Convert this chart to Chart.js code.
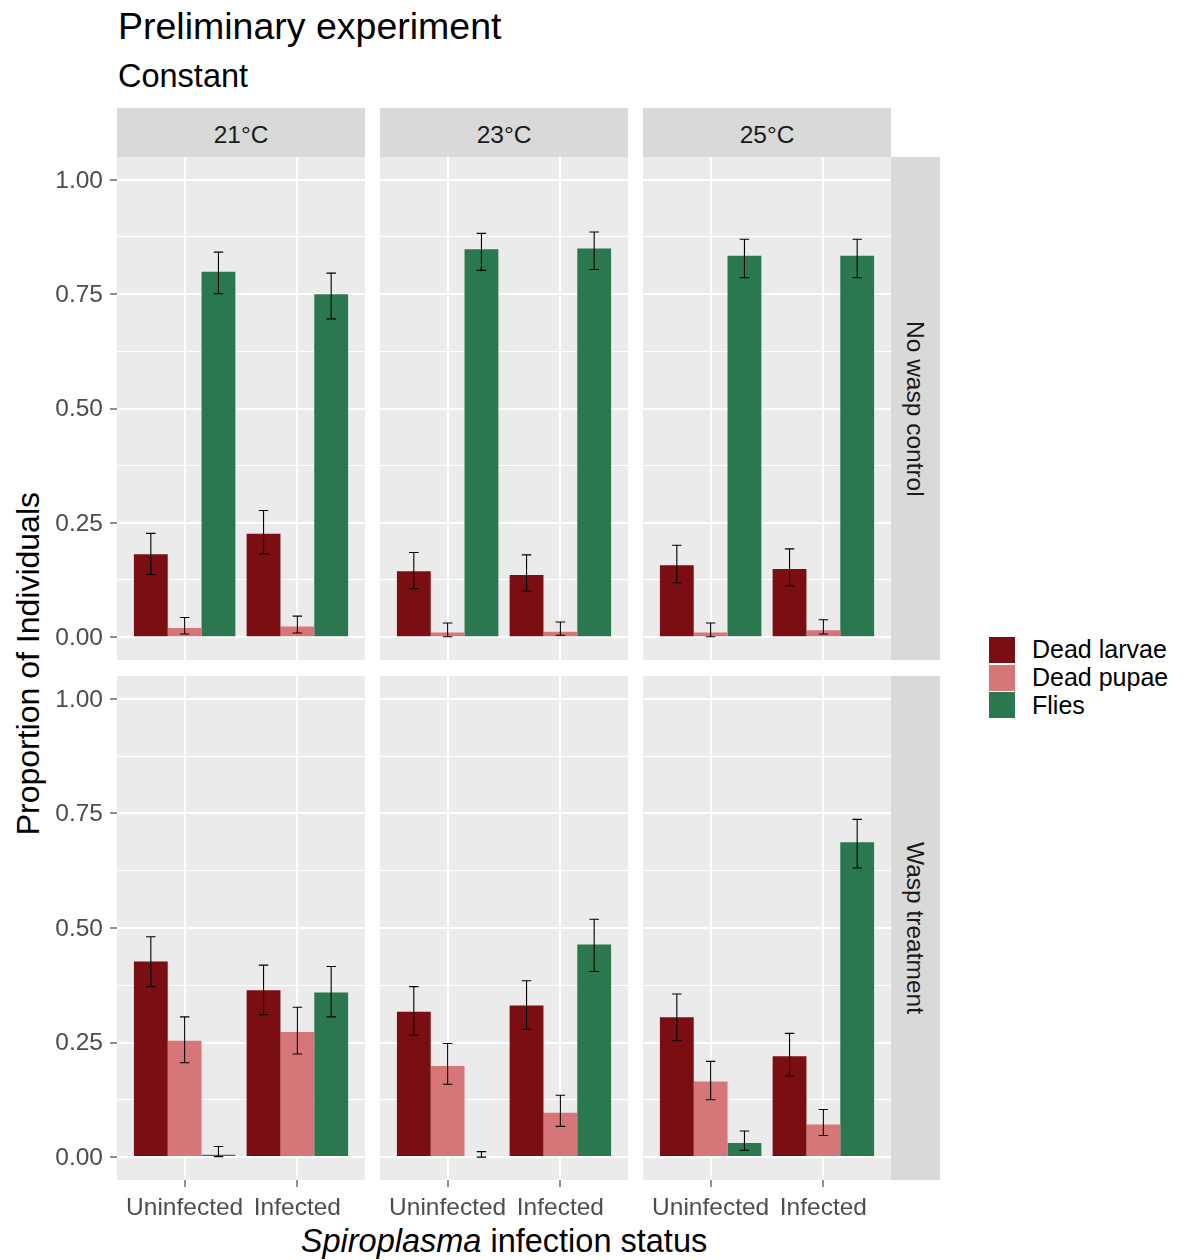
<!DOCTYPE html>
<html>
<head>
<meta charset="utf-8">
<script src="https://cdn.jsdelivr.net/npm/chart.js@4.4.1/dist/chart.umd.min.js"></script>
<style>
  html, body { margin: 0; padding: 0; background: #ffffff; }
  body { position: relative; width: 1186px; height: 1260px; overflow: hidden;
         font-family: "Liberation Sans", Arial, sans-serif; }
  .abs { position: absolute; }
  .txt { line-height: 1; white-space: nowrap; }
  .strip { background: #D9D9D9; color: #1A1A1A; font-size: 24.5px; line-height: 1;
           display: flex; align-items: center; justify-content: center; white-space: nowrap; }
  .strip.top span { position: relative; top: 3px; }
  .strip.side span { writing-mode: vertical-rl; position: relative; left: -1px; }
  #ytitle { display: flex; align-items: center; justify-content: center; }
  #ytitle span { writing-mode: vertical-rl; transform: rotate(180deg); font-size: 32px; line-height: 1; white-space: nowrap; }
  .key { width: 26px; height: 26px; }
  .legend-row { display: flex; align-items: center; height: 27.8px; }
  .legend-row span { margin-left: 17px; font-size: 25px; line-height: 1; color: #000; white-space: nowrap; }
</style>
</head>
<body>
<div class="abs txt" style="left:118px;top:7.5px;font-size:37.5px;color:#000">Preliminary experiment</div>
<div class="abs txt" style="left:118px;top:59.5px;font-size:32.5px;color:#000">Constant</div>
<div id="ytitle" class="abs" style="left:0;top:157px;width:56px;height:1013px"><span>Proportion of Individuals</span></div>
<div class="abs txt" style="left:117px;width:774px;top:1225px;font-size:32.5px;color:#000;text-align:center"><i>Spiroplasma</i> infection status</div>
<div id="legend" class="abs" style="left:989px;top:636px"></div>

<script>
// ---- categories and facets ----
const STATUS = ['Uninfected', 'Infected'];
const TEMPERATURES = ['21°C', '23°C', '25°C'];
const TREATMENTS = ['No wasp control', 'Wasp treatment'];
const OUTCOMES = ['Dead larvae', 'Dead pupae', 'Flies'];
const OUTCOME_COLOURS = ['#7A0E12', '#D77678', '#2A7750'];

// y axis breaks (labelled) and the minor lines between them
const Y_TICKS = [0, 0.25, 0.5, 0.75, 1];
const Y_MINOR = [0.125, 0.375, 0.625, 0.875];

// ---- proportions; order: 21°C Uninfected, 21°C Infected, 23°C U, 23°C I, 25°C U, 25°C I ----
// No wasp control
const NO_WASP_LARVAE      = [0.181, 0.226, 0.144, 0.136, 0.157, 0.149];
const NO_WASP_LARVAE_LOW  = [0.137, 0.182, 0.106, 0.101, 0.119, 0.112];
const NO_WASP_LARVAE_HIGH = [0.227, 0.277, 0.185, 0.180, 0.201, 0.193];
const NO_WASP_PUPAE       = [0.020, 0.023, 0.010, 0.012, 0.010, 0.015];
const NO_WASP_PUPAE_LOW   = [0.007, 0.009, 0.001, 0.004, 0.001, 0.007];
const NO_WASP_PUPAE_HIGH  = [0.043, 0.046, 0.031, 0.033, 0.031, 0.038];
const NO_WASP_FLIES       = [0.799, 0.750, 0.848, 0.850, 0.834, 0.834];
const NO_WASP_FLIES_LOW   = [0.751, 0.696, 0.802, 0.804, 0.786, 0.786];
const NO_WASP_FLIES_HIGH  = [0.842, 0.796, 0.883, 0.886, 0.870, 0.870];
// Wasp treatment
const WASP_LARVAE      = [0.427, 0.364, 0.317, 0.331, 0.305, 0.220];
const WASP_LARVAE_LOW  = [0.372, 0.311, 0.266, 0.279, 0.254, 0.177];
const WASP_LARVAE_HIGH = [0.481, 0.419, 0.372, 0.385, 0.356, 0.270];
const WASP_PUPAE       = [0.254, 0.273, 0.199, 0.097, 0.165, 0.071];
const WASP_PUPAE_LOW   = [0.206, 0.225, 0.159, 0.067, 0.125, 0.047];
const WASP_PUPAE_HIGH  = [0.306, 0.327, 0.248, 0.135, 0.209, 0.104];
const WASP_FLIES       = [0.005, 0.359, 0.000, 0.464, 0.031, 0.687];
const WASP_FLIES_LOW   = [0.001, 0.306, 0.000, 0.405, 0.015, 0.631];
const WASP_FLIES_HIGH  = [0.023, 0.416, 0.012, 0.519, 0.057, 0.737];

// rows of the facet grid -> outcome series
const SERIES = [
  [
    { mean: NO_WASP_LARVAE, low: NO_WASP_LARVAE_LOW, high: NO_WASP_LARVAE_HIGH },
    { mean: NO_WASP_PUPAE,  low: NO_WASP_PUPAE_LOW,  high: NO_WASP_PUPAE_HIGH },
    { mean: NO_WASP_FLIES,  low: NO_WASP_FLIES_LOW,  high: NO_WASP_FLIES_HIGH }
  ],
  [
    { mean: WASP_LARVAE, low: WASP_LARVAE_LOW, high: WASP_LARVAE_HIGH },
    { mean: WASP_PUPAE,  low: WASP_PUPAE_LOW,  high: WASP_PUPAE_HIGH },
    { mean: WASP_FLIES,  low: WASP_FLIES_LOW,  high: WASP_FLIES_HIGH }
  ]
];

// ---- page layout ----
const FONT = '"Liberation Sans", Arial, sans-serif';
const COL_X = [117, 380, 643];
const PANEL_W = 248;
const ROW_Y = [157, 676];
const PANEL_H = [503, 504];
const STRIP = 49;
const Y_AXIS_W = 77;
const X_AXIS_H = 52;

const isMajor = v => Y_TICKS.some(t => Math.abs(t - v) < 1e-9);

// grey panel background
const panelBackground = {
  id: 'panelBackground',
  beforeDraw(chart) {
    const { ctx, chartArea: a } = chart;
    ctx.save();
    ctx.fillStyle = '#EBEBEB';
    ctx.fillRect(a.left, a.top, a.right - a.left, a.bottom - a.top);
    ctx.restore();
  }
};

// error bars from each dataset's errLow / errHigh, placed on the bars
const errorBars = {
  id: 'errorBars',
  afterDatasetsDraw(chart) {
    const { ctx, chartArea: a, scales: { y } } = chart;
    ctx.save();
    ctx.beginPath();
    ctx.rect(a.left, a.top, a.right - a.left, a.bottom - a.top);
    ctx.clip();
    ctx.strokeStyle = '#000000';
    ctx.lineWidth = 1.1;
    chart.data.datasets.forEach((ds, di) => {
      chart.getDatasetMeta(di).data.forEach((bar, i) => {
        const yLo = y.getPixelForValue(ds.errLow[i]);
        const yHi = y.getPixelForValue(ds.errHigh[i]);
        const half = bar.width * 0.14;
        ctx.beginPath();
        ctx.moveTo(bar.x, yLo); ctx.lineTo(bar.x, yHi);
        ctx.moveTo(bar.x - half, yLo); ctx.lineTo(bar.x + half, yLo);
        ctx.moveTo(bar.x - half, yHi); ctx.lineTo(bar.x + half, yHi);
        ctx.stroke();
      });
    });
    ctx.restore();
  }
};

function makePanel(row, col) {
  const isLeft = col === 0;
  const isBottom = row === TREATMENTS.length - 1;
  const axisW = isLeft ? Y_AXIS_W : 0;
  const axisH = isBottom ? X_AXIS_H : 0;
  const w = PANEL_W + axisW;
  const h = PANEL_H[row] + axisH;

  const canvas = document.createElement('canvas');
  canvas.width = w; canvas.height = h;
  canvas.style.cssText = `position:absolute;left:${COL_X[col] - axisW}px;top:${ROW_Y[row]}px;width:${w}px;height:${h}px`;
  document.body.appendChild(canvas);

  const first = col * STATUS.length;
  const datasets = OUTCOMES.map((name, k) => {
    const s = SERIES[row][k];
    return {
      label: name,
      data: STATUS.map((_, i) => ({ x: i + 1, y: s.mean[first + i] })),
      errLow: STATUS.map((_, i) => s.low[first + i]),
      errHigh: STATUS.map((_, i) => s.high[first + i]),
      backgroundColor: OUTCOME_COLOURS[k],
      borderWidth: 0,
      categoryPercentage: 0.9,
      barPercentage: 1
    };
  });

  new Chart(canvas, {
    type: 'bar',
    data: { datasets },
    plugins: [panelBackground, errorBars],
    options: {
      responsive: false,
      animation: false,
      devicePixelRatio: 1,
      layout: { padding: 0 },
      events: [],
      plugins: { legend: { display: false }, tooltip: { enabled: false } },
      scales: {
        x: {
          type: 'linear', min: 0.4, max: 2.6, bounds: 'data', offset: false,
          afterBuildTicks: s => { s.ticks = STATUS.map((_, i) => ({ value: i + 1 })); },
          afterFit: s => { s.height = axisH; s.paddingLeft = 0; s.paddingRight = 0; },
          grid: { offset: false, color: '#FFFFFF', lineWidth: 2, drawTicks: isBottom, tickLength: 7,
                  tickColor: '#333333', tickWidth: 1.1 },
          border: { display: false },
          ticks: { display: isBottom, autoSkip: false, maxRotation: 0, minRotation: 0, padding: 7,
                   color: '#4D4D4D', font: { family: FONT, size: 24.5 },
                   callback: (v, i) => STATUS[i] }
        },
        y: {
          type: 'linear', min: -0.05, max: 1.05, bounds: 'data',
          afterBuildTicks: s => {
            s.ticks = Y_TICKS.concat(Y_MINOR).sort((a, b) => a - b).map(v => ({ value: v }));
          },
          afterFit: s => { s.width = axisW; s.paddingTop = 0; s.paddingBottom = 0; },
          grid: { color: '#FFFFFF',
                  lineWidth: c => (c.tick && isMajor(c.tick.value)) ? 2 : 1.1,
                  drawTicks: isLeft, tickLength: 7,
                  tickColor: c => (c.tick && isMajor(c.tick.value)) ? '#333333' : 'rgba(0,0,0,0)',
                  tickWidth: 1.1 },
          border: { display: false },
          ticks: { display: isLeft, padding: 7, labelOffset: 1, color: '#4D4D4D',
                   font: { family: FONT, size: 24.5 },
                   callback: v => isMajor(v) ? v.toFixed(2) : '' }
        }
      }
    }
  });
}

// facet strips
TEMPERATURES.forEach((t, c) => {
  const d = document.createElement('div');
  d.className = 'abs strip top';
  d.style.cssText = `left:${COL_X[c]}px;top:${ROW_Y[0] - STRIP}px;width:${PANEL_W}px;height:${STRIP}px`;
  const s = document.createElement('span');
  s.textContent = t;
  d.appendChild(s);
  document.body.appendChild(d);
});
TREATMENTS.forEach((t, r) => {
  const d = document.createElement('div');
  d.className = 'abs strip side';
  d.style.cssText = `left:${COL_X[COL_X.length - 1] + PANEL_W}px;top:${ROW_Y[r]}px;width:${STRIP}px;height:${PANEL_H[r]}px`;
  const s = document.createElement('span');
  s.textContent = t;
  d.appendChild(s);
  document.body.appendChild(d);
});

// legend
const legend = document.getElementById('legend');
OUTCOMES.forEach((name, k) => {
  const row = document.createElement('div');
  row.className = 'legend-row';
  const key = document.createElement('div');
  key.className = 'key';
  key.style.background = OUTCOME_COLOURS[k];
  const lab = document.createElement('span');
  lab.textContent = name;
  row.appendChild(key); row.appendChild(lab);
  legend.appendChild(row);
});

TREATMENTS.forEach((_, r) => TEMPERATURES.forEach((_, c) => makePanel(r, c)));
</script>
</body>
</html>
